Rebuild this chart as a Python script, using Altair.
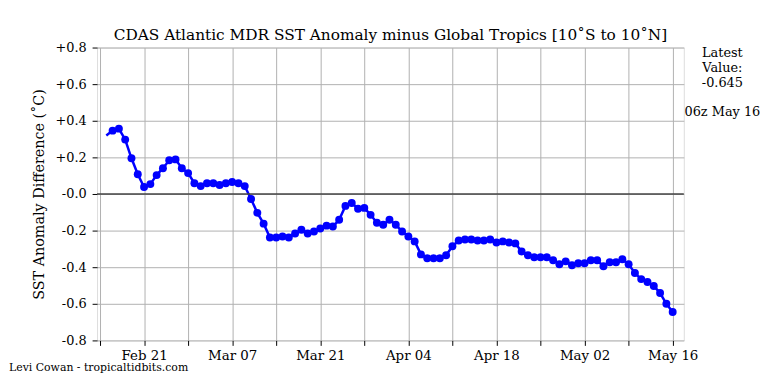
import altair as alt
import pandas as pd

# ---- data ----
start_day = 1          # first value: Feb 15 (day 0 = Feb 14)
values = [0.319, 0.346, 0.357, 0.297, 0.195, 0.108, 0.038, 0.054, 0.103, 0.141,
          0.184, 0.189, 0.141, 0.114, 0.059, 0.043, 0.059, 0.059, 0.049, 0.059,
          0.065, 0.059, 0.043, -0.027, -0.103, -0.162, -0.238, -0.238, -0.232, -0.238,
          -0.216, -0.195, -0.216, -0.205, -0.189, -0.173, -0.178, -0.141, -0.065, -0.049,
          -0.081, -0.076, -0.114, -0.157, -0.168, -0.141, -0.168, -0.205, -0.232, -0.259,
          -0.330, -0.351, -0.351, -0.351, -0.335, -0.286, -0.254, -0.249, -0.249, -0.254,
          -0.254, -0.249, -0.265, -0.259, -0.265, -0.270, -0.314, -0.335, -0.346, -0.346,
          -0.346, -0.362, -0.384, -0.368, -0.389, -0.378, -0.378, -0.362, -0.362, -0.395,
          -0.373, -0.373, -0.357, -0.384, -0.432, -0.465, -0.481, -0.503, -0.541, -0.600,
          -0.645]
x_tick_days = list(range(0, 92, 7))
x_tick_labels = ["Feb 21", "Mar 07", "Mar 21", "Apr 04", "Apr 18", "May 02", "May 16"]
y_ticks = [-0.8, -0.6, -0.4, -0.2, 0.0, 0.2, 0.4, 0.6, 0.8]
title_text = "CDAS Atlantic MDR SST Anomaly minus Global Tropics [10˚S to 10˚N]"
y_title = "SST Anomaly Difference (˚C)"
credit = "Levi Cowan - tropicaltidbits.com"
valid_time = "06z May 16"

df = pd.DataFrame({"day": list(range(start_day, start_day + len(values))), "v": values})

FONT = "DejaVu Serif"
label_arr = "[" + ",".join("'%s'" % s for s in x_tick_labels) + "]"
x_label_expr = f"(datum.value % 14 == 7) ? {label_arr}[(datum.value - 7) / 14] : ''"
y_label_expr = "datum.value > 0.001 ? '+' + format(datum.value, '.1f') : '-' + format(abs(datum.value), '.1f')"

x_enc = alt.X("day:Q",
              scale=alt.Scale(domain=[-0.47, 92.77], nice=False, zero=False),
              axis=alt.Axis(values=x_tick_days, labelExpr=x_label_expr, title=None,
                            grid=True, gridColor="#b0b0b0", gridWidth=1, domain=False,
                            tickColor="black", tickSize=5, tickWidth=1,
                            labelFont=FONT, labelFontSize=13.5, labelColor="black",
                            labelPadding=3, labelOverlap=False))
y_axis = alt.Axis(values=y_ticks, labelExpr=y_label_expr, title=y_title,
                  grid=True, gridColor="#b0b0b0", gridWidth=1, domain=False,
                  tickColor="black", tickSize=5, tickWidth=1,
                  labelFont=FONT, labelFontSize=13, labelColor="black",
                  labelPadding=6, labelOverlap=False,
                  titleFont=FONT, titleFontSize=14.5,
                  titleFontWeight="normal", titleColor="black", titlePadding=9)
y_scale = alt.Scale(domain=[-0.8, 0.8], nice=False, zero=False)
y_enc = alt.Y("v:Q", scale=y_scale, axis=y_axis)

base = alt.Chart(df)
line = base.mark_line(color="#0000ff", strokeWidth=2.5).encode(x=x_enc, y=y_enc)
pts = base.transform_filter(alt.datum.day >= start_day + 1).mark_circle(
    color="#0000ff", size=64, opacity=1).encode(x=x_enc, y=y_enc)

zero = alt.Chart(pd.DataFrame({"v": [0.0]})).mark_rule(
    color="#444444", strokeWidth=1.5).encode(y=y_enc)

def txt(s, x, y, size=13, align="center"):
    return alt.Chart(pd.DataFrame({"t": [s]})).mark_text(
        font=FONT, fontSize=size, color="black", align=align, baseline="middle"
    ).encode(text="t:N", x=alt.value(x), y=alt.value(y))

texts = [
    txt("Latest", 632, 6),
    txt("Value:", 632, 21),
    txt(f"{values[-1]:.3f}", 632, 36),
    txt(valid_time, 632, 65),
    txt(credit, -89, 324, size=11, align="left"),
]

chart = alt.layer(line, zero, pts, *texts).properties(
    width=593, height=296,
    title=alt.TitleParams(title_text, font=FONT, fontSize=15.5, fontWeight="normal",
                          color="black", anchor="middle", frame="group", offset=-2),
    autosize=alt.AutoSizeParams(type="none"),
    padding={"left": 90, "top": 38, "right": 77, "bottom": 34},
).configure_view(stroke="black", strokeWidth=1.2).configure(background="white")

chart.save("out.html", embed_options={"renderer": "svg", "actions": False})
